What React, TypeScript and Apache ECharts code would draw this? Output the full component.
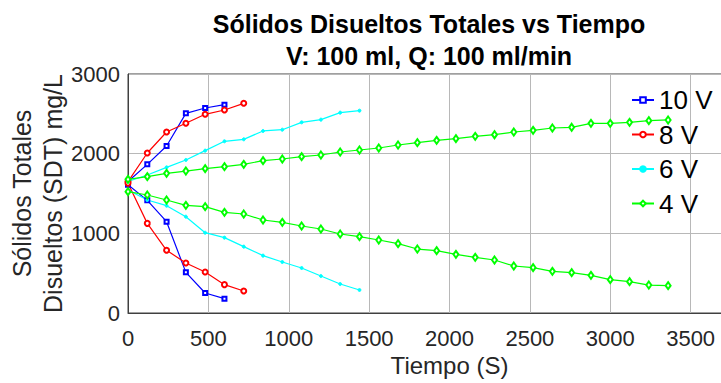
import React, { useEffect, useRef } from 'react';
import * as echarts from 'echarts';

// Time (s)
const t10 = [0, 120, 240, 360, 480, 600];
const t8 = [0, 120, 240, 360, 480, 600, 720];
const t6 = [0, 120, 240, 360, 480, 600, 720, 840, 960, 1080, 1200, 1320, 1440];
const t4 = [0, 120, 240, 360, 480, 600, 720, 840, 960, 1080, 1200, 1320, 1440, 1560, 1680, 1800, 1920, 2040, 2160, 2280, 2400, 2520, 2640, 2760, 2880, 3000, 3120, 3240, 3360];

// SDT (mg/L)
const v10Up = [1650, 1866, 2096, 2506, 2573, 2615];
const v10Down = [1610, 1414, 1146, 510, 251, 180];
const v8Up = [1650, 2008, 2272, 2381, 2494, 2548, 2632];
const v8Down = [1630, 1125, 787, 628, 515, 356, 276];
const v6Up = [1650, 1732, 1828, 1921, 2038, 2155, 2180, 2285, 2301, 2393, 2427, 2515, 2540];
const v6Down = [1544, 1418, 1347, 1209, 1008, 946, 833, 720, 640, 565, 464, 364, 289];
const v4Up = [1678, 1711, 1753, 1782, 1812, 1837, 1866, 1912, 1933, 1962, 1983, 2021, 2046, 2071, 2109, 2138, 2167, 2188, 2218, 2238, 2272, 2293, 2322, 2331, 2381, 2381, 2393, 2414, 2423];
const v4Down = [1523, 1481, 1418, 1351, 1335, 1264, 1243, 1167, 1138, 1092, 1054, 992, 958, 916, 870, 803, 782, 736, 699, 665, 590, 569, 523, 506, 473, 418, 393, 351, 343];

const legendNames = ['10 V', '8 V', '6 V', '4 V'];
const titleLines = ['Sólidos Disueltos Totales vs Tiempo', 'V: 100 ml, Q: 100 ml/min'];
const xName = 'Tiempo (S)';
const yNameLines = ['Sólidos Totales', 'Disueltos (SDT) mg/L'];

export default function App() {
  const ref = useRef<HTMLDivElement>(null);
  useEffect(() => {
    const chart = echarts.init(ref.current!, null, { renderer: 'svg' });
    const font = "'Liberation Sans', Arial, Helvetica, sans-serif";
    const mk = (name: string, t: number[], v: number[], color: string, symbol: string, size: any) => ({
      name,
      type: 'line',
      data: t.map((x, i) => [x, v[i]]),
      symbol,
      symbolSize: size,
      showSymbol: true,
      lineStyle: { color, width: 1.2 },
      itemStyle: { color, borderColor: color, borderWidth: 1 },
      emphasis: { disabled: true },
    });
    chart.setOption({
      animation: false,
      backgroundColor: '#ffffff',
      textStyle: { fontFamily: font },
      title: {
        text: titleLines.join('\n'),
        left: 424,
        top: 3,
        textAlign: 'center',
        textStyle: { fontFamily: font, fontSize: 25, fontWeight: 'bold', color: '#000', lineHeight: 32 },
      },
      grid: {
        left: 128, right: -50, top: 74, bottom: 70,
        outerBoundsMode: 'none', containLabel: false,
        show: true, borderColor: '#404040', borderWidth: 1,
      },
      legend: {
        data: legendNames,
        orient: 'vertical',
        left: 626,
        top: 82,
        padding: 5,
        itemWidth: 22,
        itemHeight: 7,
        itemGap: 8.5,
        textStyle: { fontFamily: font, fontSize: 26, color: '#000', lineHeight: 26 },
        selectedMode: false,
      },
      xAxis: {
        type: 'value',
        min: 0,
        max: 4000,
        interval: 500,
        name: xName,
        nameLocation: 'middle',
        nameGap: 40,
        nameMoveOverlap: false,
        nameTextStyle: { fontFamily: font, fontSize: 24, color: '#262626' },
        axisLine: { show: true, lineStyle: { color: '#404040' } },
        axisTick: { show: false },
        axisLabel: {
          fontFamily: font, fontSize: 22, color: '#262626', margin: 14,
          formatter: (v: number) => (v > 3500 ? '' : String(v)),
        },
        splitLine: { show: true, lineStyle: { color: '#b8b8b8', width: 1 } },
      },
      yAxis: {
        type: 'value',
        min: 0,
        max: 3000,
        interval: 1000,
        name: yNameLines.join('\n'),
        nameLocation: 'middle',
        nameGap: 60,
        nameMoveOverlap: false,
        nameRotate: 90,
        nameTextStyle: { fontFamily: font, fontSize: 25, color: '#262626', lineHeight: 31 },
        axisLine: { show: true, lineStyle: { color: '#404040' } },
        axisTick: { show: false },
        axisLabel: { fontFamily: font, fontSize: 22, color: '#262626', margin: 8, formatter: (v: number) => String(v) },
        splitLine: { show: true, lineStyle: { color: '#b8b8b8', width: 1 } },
      },
      series: [
        mk('10 V', t10, v10Up, '#0000ff', 'emptyRect', 4),
        mk('10 V', t10, v10Down, '#0000ff', 'emptyRect', 4),
        mk('8 V', t8, v8Up, '#ff0000', 'emptyCircle', 5),
        mk('8 V', t8, v8Down, '#ff0000', 'emptyCircle', 5),
        mk('6 V', t6, v6Up, '#00ffff', 'circle', 3),
        mk('6 V', t6, v6Down, '#00ffff', 'circle', 3),
        mk('4 V', t4, v4Up, '#00ff00', 'emptyDiamond', [5, 7]),
        mk('4 V', t4, v4Down, '#00ff00', 'emptyDiamond', [5, 7]),
      ],
    });
    return () => chart.dispose();
  }, []);
  return <div ref={ref} style={{ position: 'fixed', left: 0, top: 0, width: 721, height: 383 }} />;
}
